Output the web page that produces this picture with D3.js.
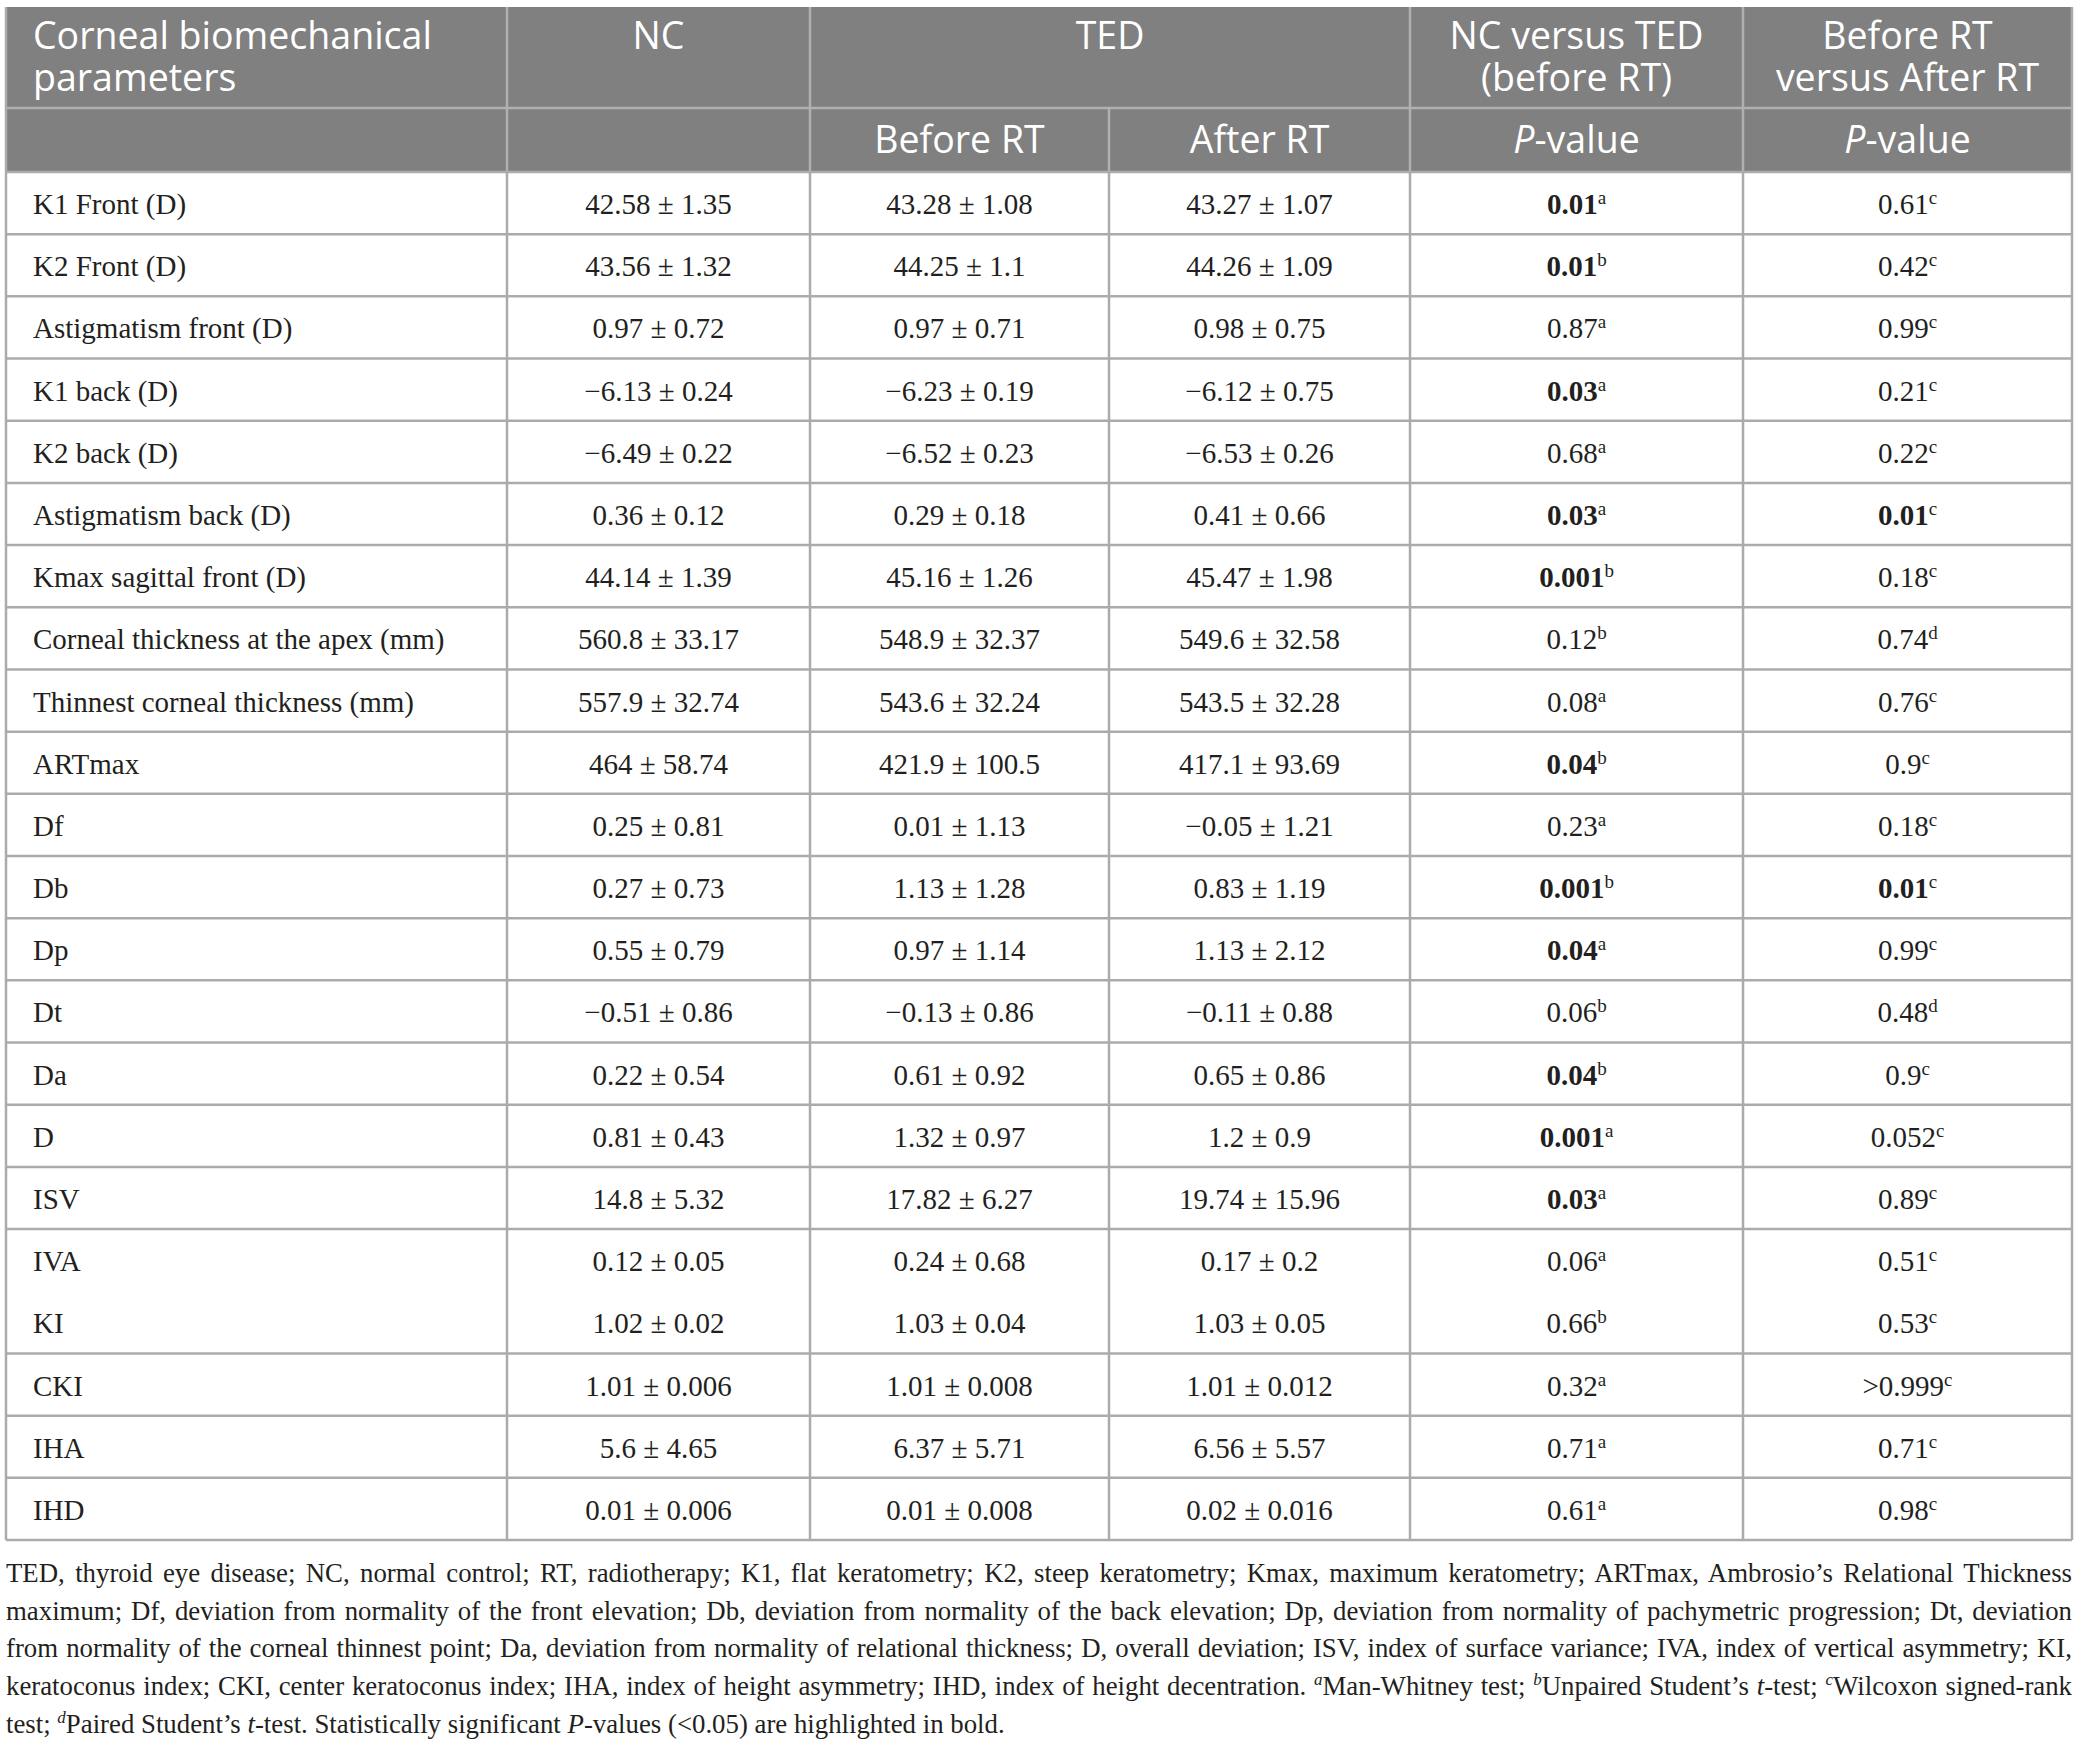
<!DOCTYPE html>
<html>
<head>
<meta charset="utf-8">
<script src="https://cdn.jsdelivr.net/npm/d3@7"></script>
<style>
  body { margin: 0; background: #fff; }
  svg { display: block; }
</style>
</head>
<body>
<svg id="chart" width="2078" height="1743"></svg>
<script>
// table data
const params = [
  'K1 Front (D)', 'K2 Front (D)', 'Astigmatism front (D)', 'K1 back (D)', 'K2 back (D)',
  'Astigmatism back (D)', 'Kmax sagittal front (D)', 'Corneal thickness at the apex (mm)',
  'Thinnest corneal thickness (mm)', 'ARTmax', 'Df', 'Db', 'Dp', 'Dt', 'Da', 'D', 'ISV',
  'IVA', 'KI', 'CKI', 'IHA', 'IHD'
];
const ncValues = [
  '42.58 ± 1.35', '43.56 ± 1.32', '0.97 ± 0.72', '−6.13 ± 0.24', '−6.49 ± 0.22',
  '0.36 ± 0.12', '44.14 ± 1.39', '560.8 ± 33.17', '557.9 ± 32.74', '464 ± 58.74',
  '0.25 ± 0.81', '0.27 ± 0.73', '0.55 ± 0.79', '−0.51 ± 0.86', '0.22 ± 0.54',
  '0.81 ± 0.43', '14.8 ± 5.32', '0.12 ± 0.05', '1.02 ± 0.02', '1.01 ± 0.006',
  '5.6 ± 4.65', '0.01 ± 0.006'
];
const beforeValues = [
  '43.28 ± 1.08', '44.25 ± 1.1', '0.97 ± 0.71', '−6.23 ± 0.19', '−6.52 ± 0.23',
  '0.29 ± 0.18', '45.16 ± 1.26', '548.9 ± 32.37', '543.6 ± 32.24', '421.9 ± 100.5',
  '0.01 ± 1.13', '1.13 ± 1.28', '0.97 ± 1.14', '−0.13 ± 0.86', '0.61 ± 0.92',
  '1.32 ± 0.97', '17.82 ± 6.27', '0.24 ± 0.68', '1.03 ± 0.04', '1.01 ± 0.008',
  '6.37 ± 5.71', '0.01 ± 0.008'
];
const afterValues = [
  '43.27 ± 1.07', '44.26 ± 1.09', '0.98 ± 0.75', '−6.12 ± 0.75', '−6.53 ± 0.26',
  '0.41 ± 0.66', '45.47 ± 1.98', '549.6 ± 32.58', '543.5 ± 32.28', '417.1 ± 93.69',
  '−0.05 ± 1.21', '0.83 ± 1.19', '1.13 ± 2.12', '−0.11 ± 0.88', '0.65 ± 0.86',
  '1.2 ± 0.9', '19.74 ± 15.96', '0.17 ± 0.2', '1.03 ± 0.05', '1.01 ± 0.012',
  '6.56 ± 5.57', '0.02 ± 0.016'
];
const pNcTed = [
  '0.01', '0.01', '0.87', '0.03', '0.68', '0.03', '0.001', '0.12', '0.08', '0.04', '0.23',
  '0.001', '0.04', '0.06', '0.04', '0.001', '0.03', '0.06', '0.66', '0.32', '0.71', '0.61'
];
const pNcTedTest = ['a','b','a','a','a','a','b','b','a','b','a','b','a','b','b','a','a','a','b','a','a','a'];
const pBeforeAfter = [
  '0.61', '0.42', '0.99', '0.21', '0.22', '0.01', '0.18', '0.74', '0.76', '0.9', '0.18',
  '0.01', '0.99', '0.48', '0.9', '0.052', '0.89', '0.51', '0.53', '>0.999', '0.71', '0.98'
];
const pBeforeAfterTest = ['c','c','c','c','c','c','c','d','c','c','c','c','c','d','c','c','c','c','c','c','c','c'];
// rows drawn inside one shared cell (no rule between them)
const mergedRows = ['KI'];

const headerTop = ['Corneal biomechanical|parameters', 'NC', 'TED', 'NC versus TED|(before RT)', 'Before RT|versus After RT'];
const headerSub = ['', '', 'Before RT', 'After RT', '*P*-value', '*P*-value'];

const footLines = [
  "TED, thyroid eye disease; NC, normal control; RT, radiotherapy; K1, flat keratometry; K2, steep keratometry; Kmax, maximum keratometry; ARTmax, Ambrosio’s Relational Thickness",
  "maximum; Df, deviation from normality of the front elevation; Db, deviation from normality of the back elevation; Dp, deviation from normality of pachymetric progression; Dt, deviation",
  "from normality of the corneal thinnest point; Da, deviation from normality of relational thickness; D, overall deviation; ISV, index of surface variance; IVA, index of vertical asymmetry; KI,",
  "keratoconus index; CKI, center keratoconus index; IHA, index of height asymmetry; IHD, index of height decentration. ^a^Man-Whitney test; ^b^Unpaired Student’s *t*-test; ^c^Wilcoxon signed-rank",
  "test; ^d^Paired Student’s *t*-test. Statistically significant *P*-values (<0.05) are highlighted in bold."
];

const svg = d3.select('#chart');
const colEdges = [6, 507, 810, 1109, 1410, 1743, 2072];
const grid = '#ababab';
const serif = '"Liberation Serif", "Times New Roman", serif';
const sans = '"Open Sans", "Noto Sans", sans-serif';

const y = d3.scaleLinear().domain([0, params.length]).range([172, 1540]);
const cx = i => (colEdges[i] + colEdges[i + 1]) / 2;

// header block
svg.append('rect').attr('x', colEdges[0]).attr('y', 7)
  .attr('width', colEdges[6] - colEdges[0]).attr('height', 172 - 7)
  .attr('fill', '#808080');

const hdr = svg.append('g').attr('font-family', sans).attr('font-size', 37.5).attr('fill', '#fff');

// top header row: column spans
const topSpans = [[0, 1], [1, 2], [2, 4], [4, 5], [5, 6]];
headerTop.forEach((label, i) => {
  const [a, b] = topSpans[i];
  const left = i === 0;
  const x = left ? 33 : (colEdges[a] + colEdges[b]) / 2;
  const t = hdr.append('text').attr('text-anchor', left ? 'start' : 'middle');
  label.split('|').forEach((line, k) => {
    t.append('tspan').attr('x', x).attr('y', 49 + k * 42).text(line);
  });
});

// second header row
headerSub.forEach((label, i) => {
  if (!label) return;
  const t = hdr.append('text').attr('text-anchor', 'middle').attr('x', cx(i)).attr('y', 153);
  label.split('*').forEach((part, k) => {
    if (!part) return;
    t.append('tspan').attr('font-style', k % 2 ? 'italic' : 'normal').text(part);
  });
});

// header rules
const hLines = svg.append('g').attr('stroke', '#b0b0b0').attr('stroke-width', 2.5);
hLines.append('line').attr('x1', colEdges[0]).attr('x2', colEdges[6]).attr('y1', 108).attr('y2', 108);
[1, 2, 4, 5].forEach(i => hLines.append('line')
  .attr('x1', colEdges[i]).attr('x2', colEdges[i]).attr('y1', 7).attr('y2', 108));
[1, 2, 3, 4, 5].forEach(i => hLines.append('line')
  .attr('x1', colEdges[i]).attr('x2', colEdges[i]).attr('y1', 108).attr('y2', 172));

// body rules
const bLines = svg.append('g').attr('stroke', grid).attr('stroke-width', 2.5);
bLines.selectAll('line.row')
  .data(d3.range(0, params.length + 1).filter(i => !mergedRows.includes(params[i])))
  .join('line').attr('class', 'row')
  .attr('x1', colEdges[0]).attr('x2', colEdges[6])
  .attr('y1', i => y(i)).attr('y2', i => y(i));
bLines.selectAll('line.col')
  .data(colEdges)
  .join('line').attr('class', 'col')
  .attr('x1', d => d).attr('x2', d => d)
  .attr('y1', (d, i) => (i === 0 || i === 6) ? 7 : 172).attr('y2', y(params.length));

// body text
const body = svg.append('g').attr('font-family', serif).attr('font-size', 29).attr('fill', '#231f20');
const rows = body.selectAll('g.r').data(params).join('g').attr('class', 'r')
  .attr('transform', (d, i) => `translate(0,${(y(i) + y(i + 1)) / 2 + 11})`);

rows.append('text').attr('x', 33).text(d => d);
[ncValues, beforeValues, afterValues].forEach((arr, c) => {
  rows.append('text').attr('x', cx(c + 1)).attr('text-anchor', 'middle')
    .text((d, i) => arr[i]);
});

function pCell(values, tests, col) {
  const t = rows.append('text').attr('x', cx(col)).attr('text-anchor', 'middle');
  t.append('tspan')
    .attr('font-weight', (d, i) => (+values[i] < 0.05 ? 'bold' : 'normal'))
    .text((d, i) => values[i]);
  t.append('tspan').attr('font-size', 19).attr('dy', -10).text((d, i) => tests[i]);
}
pCell(pNcTed, pNcTedTest, 4);
pCell(pBeforeAfter, pBeforeAfterTest, 5);

// footnote, justified lines
const foot = svg.append('g').attr('font-family', serif).attr('font-size', 26.8).attr('fill', '#231f20');
footLines.forEach((line, k) => {
  const t = foot.append('text').attr('x', colEdges[0]).attr('y', 1582 + k * 37.7)
    .attr('xml:space', 'preserve');
  // ^x^ = italic superscript, *x* = italic
  let lift = 0;
  line.split(/(\^[a-d]\^|\*[^*]+\*)/).forEach(part => {
    if (!part) return;
    const s = t.append('tspan');
    if (part.startsWith('^')) {
      s.attr('font-style', 'italic').attr('font-size', 17).attr('dy', -10).text(part.slice(1, -1));
      lift = 10;
      return;
    }
    if (lift) { s.attr('dy', lift); lift = 0; }
    if (part.startsWith('*')) s.attr('font-style', 'italic').text(part.slice(1, -1));
    else s.text(part);
  });
  const target = colEdges[6] - colEdges[0];
  const w = t.node().getComputedTextLength();
  if (k < footLines.length - 1) {
    const spaces = (line.match(/ /g) || []).length;
    if (w > target) {
      t.attr('textLength', target).attr('lengthAdjust', 'spacingAndGlyphs');
    } else {
      t.attr('word-spacing', (target - w) / spaces);
    }
  }
});
</script>
</body>
</html>
